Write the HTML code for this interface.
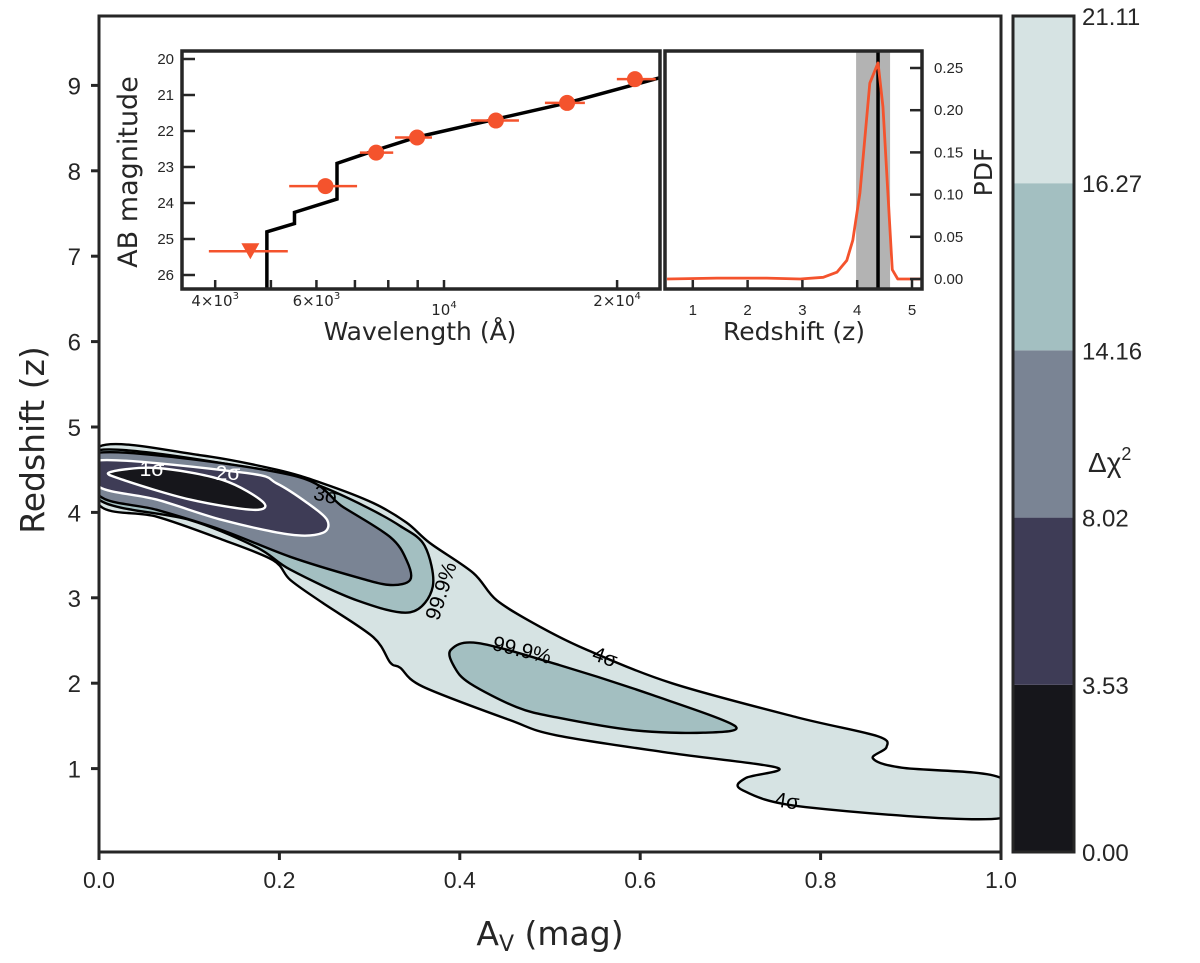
<!DOCTYPE html>
<html><head><meta charset="utf-8">
<style>
html,body{margin:0;padding:0;background:#fff;}
svg{display:block;font-family:"Liberation Sans","DejaVu Sans",sans-serif;}
</style></head>
<body>
<svg id="chart" width="1200" height="963" viewBox="0 0 1200 963" xmlns="http://www.w3.org/2000/svg">
<g id="main"></g>
<g id="cbar"></g>
<g id="sed"></g>
<g id="pdf"></g>
</svg>
<script>
// ---------- main contour data (Av, z) ----------
const levelColors = ["#d6e3e3","#a3bfc1","#7a8494","#3e3c56","#16161b"];
const cbarBounds = [0.00,3.53,8.02,14.16,16.27,21.11];
const cbarLabels = ["0.00","3.53","8.02","14.16","16.27","21.11"];
const xTicks = [0.0,0.2,0.4,0.6,0.8,1.0];
const xTickLabels = ["0.0","0.2","0.4","0.6","0.8","1.0"];
const yTicks = [1,2,3,4,5,6,7,8,9];
const contour4sig = [[0,4.77],[.112,4.67],[.197,4.50],[.248,4.34],[.304,4.11],[.341,3.88],[.367,3.64],[.415,3.29],[.441,2.97],[.489,2.66],[.541,2.39],[.635,2.00],[.774,1.60],[.863,1.38],[.873,1.25],[.858,1.12],[.890,1.01],[1.0,0.89],[1.0,0.42],[.783,0.55],[.713,0.75],[.717,0.89],[.752,1.01],[.635,1.18],[.507,1.39],[.455,1.57],[.359,1.96],[.334,2.18],[.323,2.24],[.304,2.54],[.248,2.94],[.212,3.21],[.193,3.44],[.137,3.68],[.064,3.95],[0,4.09]];
const contour999 = [[0,4.73],[.197,4.47],[.245,4.31],[.295,4.07],[.334,3.84],[.361,3.61],[.370,3.13],[.345,2.83],[.286,2.97],[.212,3.33],[.175,3.59],[.101,3.91],[0,4.15]];
const contour999b = [[.390,2.39],[.420,2.47],[.511,2.21],[.614,1.86],[.705,1.50],[.670,1.42],[.592,1.45],[.507,1.60],[.463,1.72],[.411,2.00],[.394,2.19]];
const contour3sig = [[0,4.70],[.212,4.44],[.271,4.06],[.323,3.71],[.341,3.44],[.345,3.21],[.323,3.15],[.286,3.24],[.212,3.48],[.137,3.79],[.064,4.03],[0,4.20]];
const contour2sig = [[0,4.61],[.164,4.46],[.197,4.34],[.231,4.11],[.253,3.91],[.248,3.76],[.212,3.74],[.137,3.91],[.064,4.15],[0,4.30]];
const contour1sig = [[.012,4.47],[.064,4.52],[.137,4.38],[.182,4.12],[.171,4.03],[.101,4.15],[.027,4.38]];
// ---------- SED inset data ----------
const sedLam = [4920,4920,5495,5495,6515,6515,7620,8977,12310,16370,23750];
const sedMag = [26.4,24.8,24.57,24.26,23.89,22.9,22.53,22.17,21.67,21.22,20.52];
const obsLam = [4605,6220,7620,8977,12310,16370,21480];
const obsMag = [25.34,23.53,22.6,22.18,21.71,21.22,20.56];
const obsLo = [3900,5380,7140,8220,11140,14980,19980];
const obsHi = [5350,7060,8160,9530,13500,17580,23350];
const obsUpper = [true,false,false,false,false,false,false];
const sedXTicks = [4000,5000,6000,7000,8000,9000,10000,20000];
const sedYTicks = [20,21,22,23,24,25,26];
// ---------- PDF inset data ----------
const pdfZ = [0.53,1.44,2.35,2.96,3.38,3.63,3.81,3.92,4.05,4.23,4.38,4.47,4.64,4.74,5.2];
const pdfV = [0,0.001,0.001,0,0.002,0.008,0.022,0.046,0.102,0.232,0.256,0.204,0.011,0,0];
const pdfBand = [3.98,4.6];
const pdfBest = 4.38;
const pdfXTicks = [1,2,3,4,5];
const pdfYTicks = [0,0.05,0.10,0.15,0.20,0.25];
const pdfYLabels = ["0.00","0.05","0.10","0.15","0.20","0.25"];

const NS="http://www.w3.org/2000/svg";
function mk(parent,tag,attrs,text){const e=document.createElementNS(NS,tag);for(const k in attrs)e.setAttribute(k,attrs[k]);if(text!==undefined)e.textContent=text;parent.appendChild(e);return e;}
const DJ='"DejaVu Sans","Liberation Sans",sans-serif';

// main axes
const MX0=99,MX1=1001,MY0=16,MY1=852;
const mx=v=>MX0+v*(MX1-MX0);
const my=z=>854-z*85.4;
function smoothPath(pts,closed){
  const P=pts.map(p=>[mx(p[0]),my(p[1])]);const n=P.length;let d=`M${P[0][0]},${P[0][1]}`;
  const cnt=closed?n:n-1;
  for(let i=0;i<cnt;i++){
    const p0=P[(i-1+n)%n],p1=P[i],p2=P[(i+1)%n],p3=P[(i+2)%n];
    const t=0.16;
    const c1=[p1[0]+(p2[0]-p0[0])*t,p1[1]+(p2[1]-p0[1])*t];
    const c2=[p2[0]-(p3[0]-p1[0])*t,p2[1]-(p3[1]-p1[1])*t];
    d+=`C${c1[0]},${c1[1]} ${c2[0]},${c2[1]} ${p2[0]},${p2[1]}`;
  }
  return d+(closed?"Z":"");
}
const main=document.getElementById('main');
mk(main,'defs',{}).innerHTML='<clipPath id="mclip"><rect x="99" y="16" width="902" height="836"/></clipPath>';
const cg=mk(main,'g',{'clip-path':'url(#mclip)'});
const polys=[[contour4sig,0,'#000'],[contour999,1,'#000'],[contour999b,1,'#000'],[contour3sig,2,'#000'],[contour2sig,3,'#fff'],[contour1sig,4,'#fff']];
const names=['contour-4sigma','contour-99.9-main','contour-99.9-island','contour-3sigma','contour-2sigma','contour-1sigma'];
polys.forEach((p,i)=>{
  const e=mk(cg,'path',{d:smoothPath(p[0],true),fill:levelColors[p[1]],stroke:p[2],'stroke-width':2.4,'stroke-linejoin':'round'});
  
  
});
// contour labels
const cl=[["1σ",152,476,0,'#fff'],["2σ",228,480,0,'#fff'],["3σ",326,502,12,'#000'],["99.9%",441,598,-72,'#000'],["99.9%",522,657,14,'#000'],["4σ",605,664,20,'#000'],["4σ",787,808,8,'#000']];
cl.forEach(c=>{
  const t=mk(main,'text',{x:c[1],y:c[2],'font-size':21,'text-anchor':'middle',fill:c[4],transform:`rotate(${c[3]} ${c[1]} ${c[2]-7})`},c[0]);
  
  
});
mk(main,'rect',{x:MX0,y:MY0,width:MX1-MX0,height:MY1-MY0,fill:'none',stroke:'#262626','stroke-width':3,});
xTicks.forEach((v,i)=>{
  mk(main,'line',{x1:mx(v),x2:mx(v),y1:MY1,y2:MY1+8,stroke:'#262626','stroke-width':3});
  const t=mk(main,'text',{x:mx(v),y:MY1+36,'font-size':23,'text-anchor':'middle',fill:'#262626'},xTickLabels[i]);
  
  
});
yTicks.forEach(v=>{
  mk(main,'line',{x1:MX0-8,x2:MX0,y1:my(v),y2:my(v),stroke:'#262626','stroke-width':3});
  const t=mk(main,'text',{x:MX0-18,y:my(v)+9,'font-size':24,'text-anchor':'end',fill:'#262626'},String(v));
  
  
});
mk(main,'text',{x:44,y:440,'font-size':33,'text-anchor':'middle',fill:'#262626','font-family':DJ,transform:'rotate(-90 44 440)',},'Redshift (z)');
const xt=mk(main,'text',{x:550,y:945,'font-size':33,'text-anchor':'middle',fill:'#262626','font-family':DJ,});
xt.innerHTML='A<tspan font-size="22" dy="6">V</tspan><tspan dy="-6"> (mag)</tspan>';

// colorbar
const cb=document.getElementById('cbar');
const CX=1013,CW=61,CY0=16,CY1=852;
const cy=i=>CY1-i*(CY1-CY0)/(cbarBounds.length-1);
for(let i=0;i<cbarBounds.length-1;i++){
  const r=mk(cb,'rect',{x:CX,y:cy(i+1),width:CW,height:cy(i)-cy(i+1),fill:levelColors[4-i]});
  
  
}
mk(cb,'rect',{x:CX,y:CY0,width:CW,height:CY1-CY0,fill:'none',stroke:'#262626','stroke-width':3});
cbarLabels.forEach((l,i)=>{
  const t=mk(cb,'text',{x:1082,y:cy(i)+9,'font-size':24,fill:'#262626'},l);
  
  
});
const ct=mk(cb,'text',{x:1088,y:472,'font-size':28,fill:'#262626',});
ct.innerHTML='Δχ<tspan font-size="18" dy="-12">2</tspan>';

// SED inset
const sed=document.getElementById('sed');
const SX0=182,SX1=660,SY0=51,SY1=289;
const sx=l=>444+575*(Math.log10(l)-4);
const sy=m=>59+(m-20)*36;
mk(sed,'rect',{x:SX0,y:SY0,width:SX1-SX0,height:SY1-SY0,fill:'#fff'});
mk(sed,'defs',{}).innerHTML='<clipPath id="sclip"><rect x="182" y="51" width="478" height="238"/></clipPath>';
const sg=mk(sed,'g',{'clip-path':'url(#sclip)'});
const sedPts=sedLam.map((l,i)=>`${sx(l)},${sy(sedMag[i])}`).join(' ');
mk(sg,'polyline',{points:sedPts,fill:'none',stroke:'#000','stroke-width':3.5,});
obsLam.forEach((l,i)=>{
  const y=sy(obsMag[i]);
  mk(sg,'line',{x1:sx(obsLo[i]),x2:sx(obsHi[i]),y1:y,y2:y,stroke:'#f4532d','stroke-width':2.5});
  let m;
  if(obsUpper[i]){
    const x=sx(l);
    m=mk(sg,'polygon',{points:`${x-9},${y-8} ${x+9},${y-8} ${x},${y+8}`,fill:'#f4532d'});
  } else {
    m=mk(sg,'circle',{cx:sx(l),cy:y,r:8,fill:'#f4532d'});
  }
  
  
});
sedXTicks.forEach(l=>mk(sed,'line',{x1:sx(l),x2:sx(l),y1:SY1,y2:SY1-9,stroke:'#262626','stroke-width':2.5}));
sedYTicks.forEach(m=>{
  mk(sed,'line',{x1:SX0,x2:SX0+13,y1:sy(m),y2:sy(m),stroke:'#262626','stroke-width':2.5});
  const t=mk(sed,'text',{x:SX0-8,y:sy(m)+5,'font-size':15,'text-anchor':'end',fill:'#262626'},String(m));
  
  
});
mk(sed,'rect',{x:SX0,y:SY0,width:SX1-SX0,height:SY1-SY0,fill:'none',stroke:'#262626','stroke-width':3.5});
[[4000,'4×10','3'],[6000,'6×10','3'],[10000,'10','4'],[20000,'2×10','4']].forEach((d,i)=>{
  const t=mk(sed,'text',{x:sx(d[0]),y:i==2?315:306,'font-size':15,'text-anchor':'middle',fill:'#262626','font-family':DJ});
  t.innerHTML=d[1]+'<tspan font-size="10" dy="-7">'+d[2]+'</tspan>';
  
  
});
mk(sed,'text',{x:420,y:340,'font-size':25,'text-anchor':'middle',fill:'#262626','font-family':DJ,},'Wavelength (Å)');
mk(sed,'text',{x:137,y:172,'font-size':27,'text-anchor':'middle',fill:'#262626','font-family':DJ,transform:'rotate(-90 137 172)',},'AB magnitude');

// PDF inset
const pdf=document.getElementById('pdf');
const PX0=665,PX1=922,PY0=51,PY1=289;
const px=z=>638+z*54.8;
const py=v=>279-v*844;
mk(pdf,'rect',{x:PX0,y:PY0,width:PX1-PX0,height:PY1-PY0,fill:'#fff'});
mk(pdf,'rect',{x:px(pdfBand[0]),y:PY0,width:px(pdfBand[1])-px(pdfBand[0]),height:PY1-PY0,fill:'#b3b3b3',});
mk(pdf,'line',{x1:px(pdfBest),x2:px(pdfBest),y1:PY0,y2:PY1,stroke:'#000','stroke-width':3.5,});
mk(pdf,'polyline',{points:pdfZ.map((z,i)=>`${px(z)},${py(pdfV[i])}`).join(' '),fill:'none',stroke:'#f4532d','stroke-width':2.8,'stroke-linejoin':'round',});
pdfXTicks.forEach(z=>{
  mk(pdf,'line',{x1:px(z),x2:px(z),y1:PY1,y2:PY1-9,stroke:'#262626','stroke-width':2.5});
  const t=mk(pdf,'text',{x:px(z),y:PY1+26,'font-size':15,'text-anchor':'middle',fill:'#262626'},String(z));
  
  
});
pdfYTicks.forEach((v,i)=>{
  mk(pdf,'line',{x1:PX1-12,x2:PX1,y1:py(v),y2:py(v),stroke:'#262626','stroke-width':2.5});
  const t=mk(pdf,'text',{x:934,y:py(v)+5,'font-size':15,fill:'#262626'},pdfYLabels[i]);
  
  
});
mk(pdf,'rect',{x:PX0,y:PY0,width:PX1-PX0,height:PY1-PY0,fill:'none',stroke:'#262626','stroke-width':3.5});
mk(pdf,'text',{x:794,y:340,'font-size':25,'text-anchor':'middle',fill:'#262626','font-family':DJ,},'Redshift (z)');
mk(pdf,'text',{x:992,y:172,'font-size':25,'text-anchor':'middle',fill:'#262626','font-family':DJ,transform:'rotate(-90 992 172)',},'PDF');
</script>
</body></html>
